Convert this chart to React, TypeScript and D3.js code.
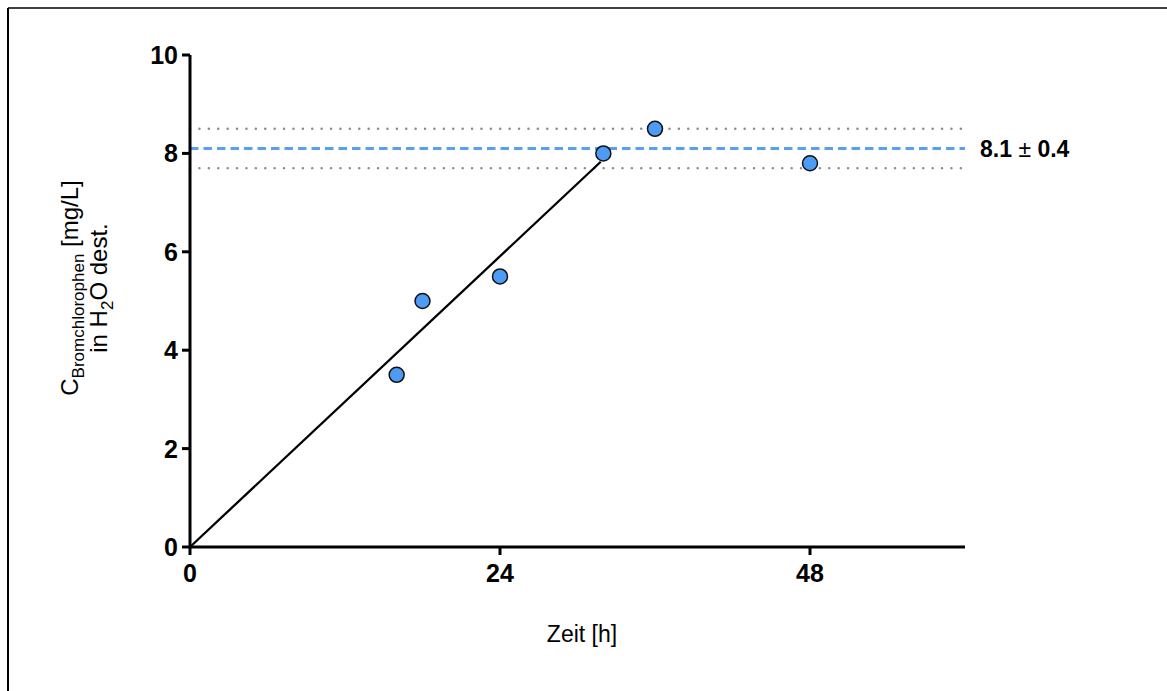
import React from "react";
import * as d3 from "d3";

const timeH = [16, 18, 24, 32, 36, 48];
const concMgL = [3.5, 5.0, 5.5, 8.0, 8.5, 7.8];
const fitLine = [
  [0, 0],
  [31.8, 7.83],
];
const plateauMean = 8.1;
const plateauSd = 0.4;
const xTicks = [0, 24, 48];
const yTicks = [0, 2, 4, 6, 8, 10];

const W = 1167;
const H = 691;

export default function App() {
  const x = d3.scaleLinear().domain([0, 60]).range([190, 965]);
  const y = d3.scaleLinear().domain([0, 10]).range([547, 55]);
  const line = d3
    .line<number[]>()
    .x((d) => x(d[0]))
    .y((d) => y(d[1]));
  const font = "'Liberation Sans', Arial, Helvetica, sans-serif";
  const [x0, x1] = x.range();

  return (
    <svg
      width={W}
      height={H}
      style={{ position: "absolute", left: 0, top: 0, background: "#fff" }}
      fontFamily={font}
    >
      {/* frame */}
      <line x1={8} y1={8} x2={W} y2={8} stroke="#000" strokeWidth={1.5} />
      <line x1={8} y1={8} x2={8} y2={H} stroke="#000" strokeWidth={2} />

      {/* reference lines */}
      <line x1={x0} x2={x1} y1={y(plateauMean + plateauSd)} y2={y(plateauMean + plateauSd)}
        stroke="#8a8a8a" strokeWidth={2.4} strokeDasharray="0.1,9.3" strokeLinecap="round" />
      <line x1={x0} x2={x1} y1={y(plateauMean - plateauSd)} y2={y(plateauMean - plateauSd)}
        stroke="#8a8a8a" strokeWidth={2.4} strokeDasharray="0.1,9.3" strokeLinecap="round" />
      <line x1={x0} x2={x1} y1={y(plateauMean)} y2={y(plateauMean)}
        stroke="#5a9ff0" strokeWidth={2.8} strokeDasharray="8.5,5" />
      <text x={980} y={y(plateauMean)} dy="0.36em" fontSize={23} fontWeight="bold" fill="#000">
        {plateauMean.toFixed(1)} <tspan fontWeight="normal">±</tspan> {plateauSd.toFixed(1)}
      </text>

      {/* fit line */}
      <path d={line(fitLine) || ""} fill="none" stroke="#000" strokeWidth={2.3} />

      {/* axes */}
      <line x1={x0} x2={x1} y1={y(0)} y2={y(0)} stroke="#000" strokeWidth={3} />
      <line x1={x0} x2={x0} y1={y(0)} y2={y(10)} stroke="#000" strokeWidth={3} />
      {xTicks.map((t) => (
        <g key={"x" + t}>
          <line x1={x(t)} x2={x(t)} y1={y(0)} y2={y(0) + 8} stroke="#000" strokeWidth={3} />
          <text x={x(t)} y={y(0) + 35} textAnchor="middle" fontSize={25} fontWeight="bold">
            {t}
          </text>
        </g>
      ))}
      {yTicks.map((t) => (
        <g key={"y" + t}>
          <line x1={x0 - 8} x2={x0} y1={y(t)} y2={y(t)} stroke="#000" strokeWidth={3} />
          <text x={x0 - 12} y={y(t)} dy="0.36em" textAnchor="end" fontSize={25} fontWeight="bold">
            {t}
          </text>
        </g>
      ))}

      {/* points */}
      {timeH.map((t, i) => (
        <circle key={i} cx={x(t)} cy={y(concMgL[i])} r={7.5} fill="#4d9bf5" stroke="#111" strokeWidth={1.5} />
      ))}

      {/* axis labels */}
      <text x={582} y={642} textAnchor="middle" fontSize={23}>
        Zeit [h]
      </text>
      <g transform="translate(78,288) rotate(-90)">
        <text x={0} y={0} textAnchor="middle" fontSize={24}>
          C<tspan fontSize={17} dy={6}>Bromchlorophen</tspan>
          <tspan dy={-6}> [mg/L]</tspan>
        </text>
        <text x={0} y={29} textAnchor="middle" fontSize={24}>
          in H<tspan fontSize={17} dy={6}>2</tspan>
          <tspan dy={-6}>O dest.</tspan>
        </text>
      </g>
    </svg>
  );
}
